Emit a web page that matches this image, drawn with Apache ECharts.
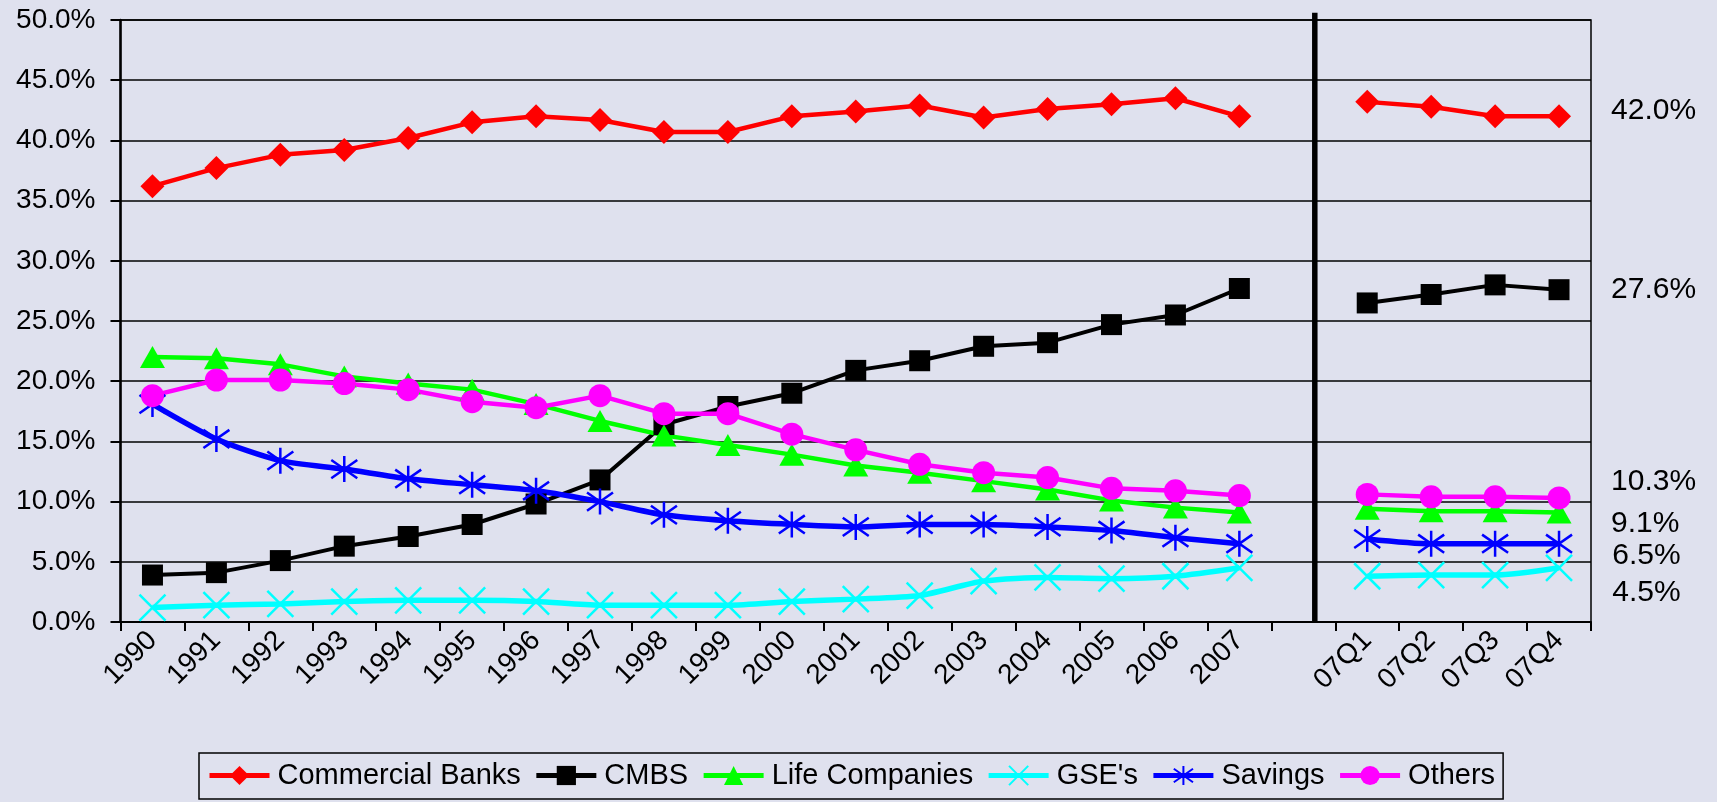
<!DOCTYPE html>
<html>
<head>
<meta charset="utf-8">
<script src="https://cdn.jsdelivr.net/npm/echarts@6/dist/echarts.min.js"></script>
<style>
html,body{margin:0;padding:0;background:#dfe1ee;}
#chart{width:1717px;height:802px;}
</style>
</head>
<body>
<div id="chart"></div>
<script>
var categories = ['1990','1991','1992','1993','1994','1995','1996','1997','1998','1999','2000','2001','2002','2003','2004','2005','2006','2007','','07Q1','07Q2','07Q3','07Q4'];
var commercialBanks = [36.2,37.7,38.8,39.2,40.2,41.5,42.0,41.7,40.7,40.7,42.0,42.4,42.9,41.9,42.6,43.0,43.5,42.0,null,43.2,42.8,42.0,42.0];
var cmbs = [3.9,4.1,5.1,6.3,7.1,8.1,9.8,11.8,16.4,17.9,19.0,20.9,21.7,22.9,23.2,24.7,25.5,27.7,null,26.5,27.2,28.0,27.6];
var lifeCompanies = [22.0,21.9,21.4,20.4,19.8,19.3,18.1,16.7,15.5,14.7,13.9,13.0,12.4,11.7,11.0,10.1,9.5,9.1,null,9.4,9.2,9.2,9.1];
var gses = [1.2,1.4,1.5,1.7,1.8,1.8,1.7,1.4,1.4,1.4,1.7,1.9,2.2,3.4,3.7,3.6,3.8,4.5,null,3.8,3.9,3.9,4.5];
var savings = [18.1,15.2,13.4,12.7,11.9,11.4,10.9,10.0,8.9,8.4,8.1,7.9,8.1,8.1,7.9,7.6,7.0,6.5,null,6.9,6.5,6.5,6.5];
var others = [18.8,20.1,20.1,19.8,19.3,18.3,17.8,18.8,17.3,17.3,15.6,14.3,13.1,12.4,12.0,11.1,10.9,10.5,null,10.6,10.4,10.4,10.3];
var yTicks = {min: 0, max: 50, interval: 5};
var dividerPos = 18.18;   // position of the period divider, in category units
var dividerSpan = [0, 50.6];

var FONT = 'Liberation Sans, Arial, sans-serif';
var ASTER = 'path://M10,0 L10,20 M3,3 L17,17 M3,17 L17,3';
var CROSS = 'path://M0,0 L20,20 M0,20 L20,0';

function withEndLabel(arr, dy, size) {
  var last = arr.length - 1;
  return arr.map(function (v, i) {
    if (i !== last) return v;
    return {
      value: v,
      label: {
        show: true, position: 'right', distance: 52 - size / 2, offset: [0, dy],
        formatter: function (p) { return p.value.toFixed(1) + '%'; },
        color: '#000', fontSize: 30, fontFamily: FONT
      }
    };
  });
}

function mkSeries(name, data, color, symbol, size, lw, dy, opts) {
  var s = {
    name: name, type: 'line', data: withEndLabel(data, dy, Array.isArray(size) ? size[0] : size),
    xAxisIndex: 0, yAxisIndex: 0,
    symbol: symbol, symbolSize: size, connectNulls: false,
    lineStyle: {color: color, width: lw},
    itemStyle: {color: color, borderColor: color, borderWidth: 0, opacity: 1},
    emphasis: {disabled: true}
  };
  if (opts) for (var k in opts) s[k] = opts[k];
  return s;
}

var chart = echarts.init(document.getElementById('chart'));
chart.setOption({
  backgroundColor: '#dfe1ee',
  animation: false,
  textStyle: {fontFamily: FONT, color: '#000'},
  grid: {left: 120.5, right: 126, top: 20, bottom: 180, show: true, borderColor: '#000', borderWidth: 1.5, backgroundColor: 'transparent'},
  legend: {
    left: 199, top: 753, width: 1310,
    padding: [8, 8, 9, 8],
    borderColor: '#000', borderWidth: 1.5, borderRadius: 0,
    backgroundColor: '#dfe1ee',
    itemWidth: 60, itemHeight: 24, itemGap: 13,
    lineStyle: {width: 5},
    textStyle: {fontSize: 29, fontFamily: FONT, color: '#000', padding: [0, 0, 0, 3]},
    data: ['Commercial Banks', 'CMBS', 'Life Companies', "GSE's", 'Savings', 'Others']
  },
  xAxis: [{
    type: 'category', data: categories, boundaryGap: true,
    axisLine: {show: true, onZero: false, lineStyle: {color: '#000', width: 2}},
    axisTick: {show: true, interval: 0, length: 9, lineStyle: {color: '#000', width: 2}},
    axisLabel: {interval: 0, rotate: 45, margin: 14, fontSize: 28, fontFamily: FONT, color: '#000'},
    splitLine: {show: false}
  }, {
    type: 'value', min: -0.5, max: categories.length - 0.5, show: false
  }],
  yAxis: [{
    type: 'value', min: yTicks.min, max: yTicks.max, interval: yTicks.interval,
    axisLine: {show: true, onZero: false, lineStyle: {color: '#000', width: 2.5}},
    axisTick: {show: true, length: 10, lineStyle: {color: '#000', width: 2}},
    axisLabel: {margin: 25, fontSize: 28, fontFamily: FONT, color: '#000',
      formatter: function (v) { return v.toFixed(1) + '%'; }},
    splitLine: {show: true, lineStyle: {color: '#000', width: 1.5}}
  }],
  series: [
    mkSeries('Commercial Banks', commercialBanks, '#ff0000', 'diamond', [24, 24], 4.5, -6),
    mkSeries('CMBS', cmbs, '#000000', 'rect', 21, 4, 0),
    mkSeries('Life Companies', lifeCompanies, '#00ff00', 'triangle', [25, 22], 4.5, 11),
    mkSeries("GSE's", gses, '#00ffff', CROSS, 26, 5.5, 25, {smooth: 0.25, itemStyle: {color: 'transparent', borderColor: '#00ffff', borderWidth: 2.5}}),
    mkSeries('Savings', savings, '#0000ff', ASTER, 26, 5.5, 12, {smooth: 0.25, itemStyle: {color: 'transparent', borderColor: '#0000ff', borderWidth: 2.5}}),
    mkSeries('Others', others, '#ff00ff', 'circle', 23, 4.5, -16),
    {
      name: 'divider', type: 'line', xAxisIndex: 1, yAxisIndex: 0, clip: false,
      data: [[dividerPos, dividerSpan[0]], [dividerPos, dividerSpan[1]]],
      symbol: 'none', lineStyle: {color: '#000', width: 5.5}, silent: true, z: 1
    }
  ]
});
</script>
</body>
</html>
